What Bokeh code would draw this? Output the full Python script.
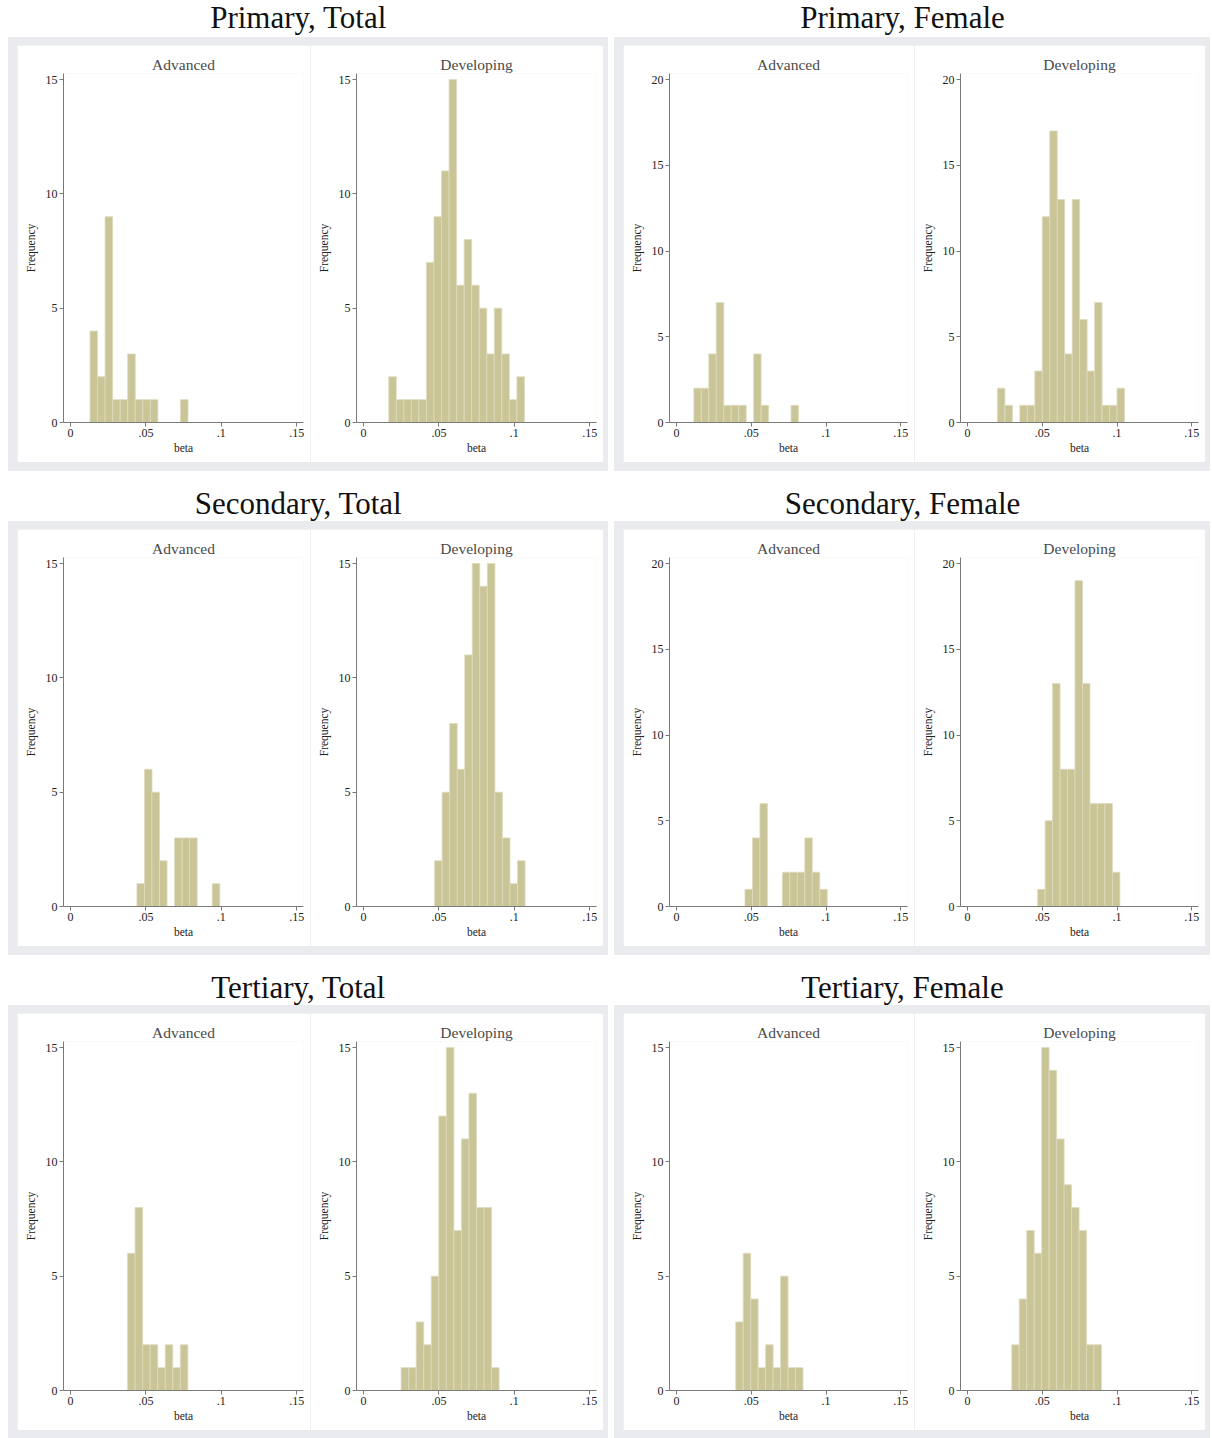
from bokeh.plotting import figure
from bokeh.layouts import column, row
from bokeh.models import Range1d, FixedTicker, Label, Spacer, Row
from bokeh.embed import file_html
from bokeh.resources import INLINE

# ---------------- data ----------------
panel_titles = ["Primary, Total", "Primary, Female",
                "Secondary, Total", "Secondary, Female",
                "Tertiary, Total", "Tertiary, Female"]
group_labels = ["Advanced", "Developing"]
x_ticks = [0, 0.05, 0.1, 0.15]
x_tick_labels = ["0", ".05", ".1", ".15"]
bin_width = 0.005

prim_total_ymax = 15
prim_total_adv_start = 0.0129
prim_total_adv_counts = [4, 2, 9, 1, 1, 3, 1, 1, 1, 0, 0, 0, 1]
prim_total_dev_start = 0.0167
prim_total_dev_counts = [2, 1, 1, 1, 1, 7, 9, 11, 15, 6, 8, 6, 5, 3, 5, 3, 1, 2]

prim_female_ymax = 20
prim_female_adv_start = 0.0116
prim_female_adv_counts = [2, 2, 4, 7, 1, 1, 1, 0, 4, 1, 0, 0, 0, 1]
prim_female_dev_start = 0.0200
prim_female_dev_counts = [2, 1, 0, 1, 1, 3, 12, 17, 13, 4, 13, 6, 3, 7, 1, 1, 2]

sec_total_ymax = 15
sec_total_adv_start = 0.0440
sec_total_adv_counts = [1, 6, 5, 2, 0, 3, 3, 3, 0, 0, 1]
sec_total_dev_start = 0.0471
sec_total_dev_counts = [2, 5, 8, 6, 11, 15, 14, 15, 5, 3, 1, 2]

sec_female_ymax = 20
sec_female_adv_start = 0.0458
sec_female_adv_counts = [1, 4, 6, 0, 0, 2, 2, 2, 4, 2, 1]
sec_female_dev_start = 0.0469
sec_female_dev_counts = [1, 5, 13, 8, 8, 19, 13, 6, 6, 6, 2]

ter_total_ymax = 15
ter_total_adv_start = 0.0378
ter_total_adv_counts = [6, 8, 2, 2, 1, 2, 1, 2]
ter_total_dev_start = 0.0249
ter_total_dev_counts = [1, 1, 3, 2, 5, 12, 15, 7, 11, 13, 8, 8, 1]

ter_female_ymax = 15
ter_female_adv_start = 0.0396
ter_female_adv_counts = [3, 6, 4, 1, 2, 1, 5, 1, 1]
ter_female_dev_start = 0.0296
ter_female_dev_counts = [2, 4, 7, 6, 15, 14, 11, 9, 8, 7, 2, 2]

panels = [
    (panel_titles[0], prim_total_ymax, (prim_total_adv_start, prim_total_adv_counts), (prim_total_dev_start, prim_total_dev_counts)),
    (panel_titles[1], prim_female_ymax, (prim_female_adv_start, prim_female_adv_counts), (prim_female_dev_start, prim_female_dev_counts)),
    (panel_titles[2], sec_total_ymax, (sec_total_adv_start, sec_total_adv_counts), (sec_total_dev_start, sec_total_dev_counts)),
    (panel_titles[3], sec_female_ymax, (sec_female_adv_start, sec_female_adv_counts), (sec_female_dev_start, sec_female_dev_counts)),
    (panel_titles[4], ter_total_ymax, (ter_total_adv_start, ter_total_adv_counts), (ter_total_dev_start, ter_total_dev_counts)),
    (panel_titles[5], ter_female_ymax, (ter_female_adv_start, ter_female_adv_counts), (ter_female_dev_start, ter_female_dev_counts)),
]

# ---------------- styling ----------------
SERIF = "Liberation Serif"
BAR_FILL = "#cac597"
BAR_LINE = "#dedbbf"
AXIS_COL = "#7a7a7a"
GRAY_BG = "#e9ebee"
LEFT_PAD = 8
PANEL_W_L = 600
PANEL_W_R = 596
GAP_W = 6
SUB_H = 417
ROW_GAP = 13


def make_hist(label, start, counts, ymax, w):
    p = figure(width=w, height=SUB_H,
               x_range=Range1d(-0.0047, 0.1545),
               y_range=Range1d(0, ymax * 1.0175),
               toolbar_location=None, output_backend="svg",
               min_border_left=46, min_border_right=7,
               min_border_top=28, min_border_bottom=40,
               background_fill_color="white", border_fill_color="white",
               outline_line_color=None)
    p.title.text = label
    p.title.align = "center"
    p.title.text_font = SERIF
    p.title.text_font_size = "15.5px"
    p.title.text_font_style = "normal"
    p.title.text_color = "#4a4a4a"
    p.title.standoff = 2

    lefts, rights, tops = [], [], []
    for i, c in enumerate(counts):
        if c > 0:
            lefts.append(start + i * bin_width)
            rights.append(start + (i + 1) * bin_width)
            tops.append(c)
    p.quad(left=lefts, right=rights, bottom=0, top=tops,
           fill_color=BAR_FILL, line_color=BAR_LINE, line_width=0.8)

    p.xgrid.visible = False
    p.ygrid.visible = False

    p.xaxis.ticker = FixedTicker(ticks=x_ticks)
    p.xaxis.major_label_overrides = {t: s for t, s in zip(x_ticks, x_tick_labels)}
    p.yaxis.ticker = FixedTicker(ticks=list(range(0, ymax + 1, 5)))
    p.xaxis.axis_label = "beta"
    p.yaxis.axis_label = "Frequency"

    for ax in (p.xaxis, p.yaxis):
        ax.axis_line_color = AXIS_COL
        ax.axis_line_width = 1
        ax.major_tick_line_color = AXIS_COL
        ax.major_tick_out = 4
        ax.major_tick_in = 0
        ax.minor_tick_line_color = None
        ax.major_label_text_font = SERIF
        ax.major_label_text_font_size = "12px"
        ax.major_label_text_color = "#222222"
        ax.major_label_standoff = 2
        ax.axis_label_text_font = SERIF
        ax.axis_label_text_font_size = "11.5px"
        ax.axis_label_text_font_style = "normal"
        ax.axis_label_text_color = "#222222"
    p.xaxis.axis_label_standoff = 2
    p.yaxis.axis_label_standoff = 6
    return p


def make_title(text, w, h, y_frac):
    p = figure(width=w, height=h, x_range=Range1d(0, w), y_range=Range1d(0, 1),
               toolbar_location=None, output_backend="svg",
               x_axis_location=None, y_axis_location=None,
               min_border=0, outline_line_color=None,
               background_fill_color="white", border_fill_color="white")
    p.xgrid.visible = False
    p.ygrid.visible = False
    p.add_layout(Label(x=w / 2 - 10, y=y_frac, text=text, text_align="center",
                       text_baseline="middle", text_font=SERIF,
                       text_font_size="31px", text_color="#111111"))
    return p


def make_panel(ymax, adv, dev, width):
    w1 = (width - 14) // 2
    w2 = width - 14 - w1
    a = make_hist(group_labels[0], adv[0], adv[1], ymax, w1)
    b = make_hist(group_labels[1], dev[0], dev[1], ymax, w2)
    return Row(children=[a, b],
               styles={"background-color": GRAY_BG, "padding": "8px 5px 9px 9px"})


rows = []
for r in range(3):
    left = panels[2 * r]
    right = panels[2 * r + 1]
    th = 37 if r == 0 else 37
    yf = 0.55 if r == 0 else 0.5
    if r > 0:
        rows.append(Spacer(width=10, height=ROW_GAP))
    rows.append(row(Spacer(width=LEFT_PAD, height=th),
                    make_title(left[0], PANEL_W_L, th, yf),
                    Spacer(width=GAP_W, height=th),
                    make_title(right[0], PANEL_W_R, th, yf)))
    rows.append(row(Spacer(width=LEFT_PAD, height=10),
                    make_panel(left[1], left[2], left[3], PANEL_W_L),
                    Spacer(width=GAP_W, height=10),
                    make_panel(right[1], right[2], right[3], PANEL_W_R)))

layout = column(*rows)

open("out.html", "w").write(file_html(layout, INLINE))
